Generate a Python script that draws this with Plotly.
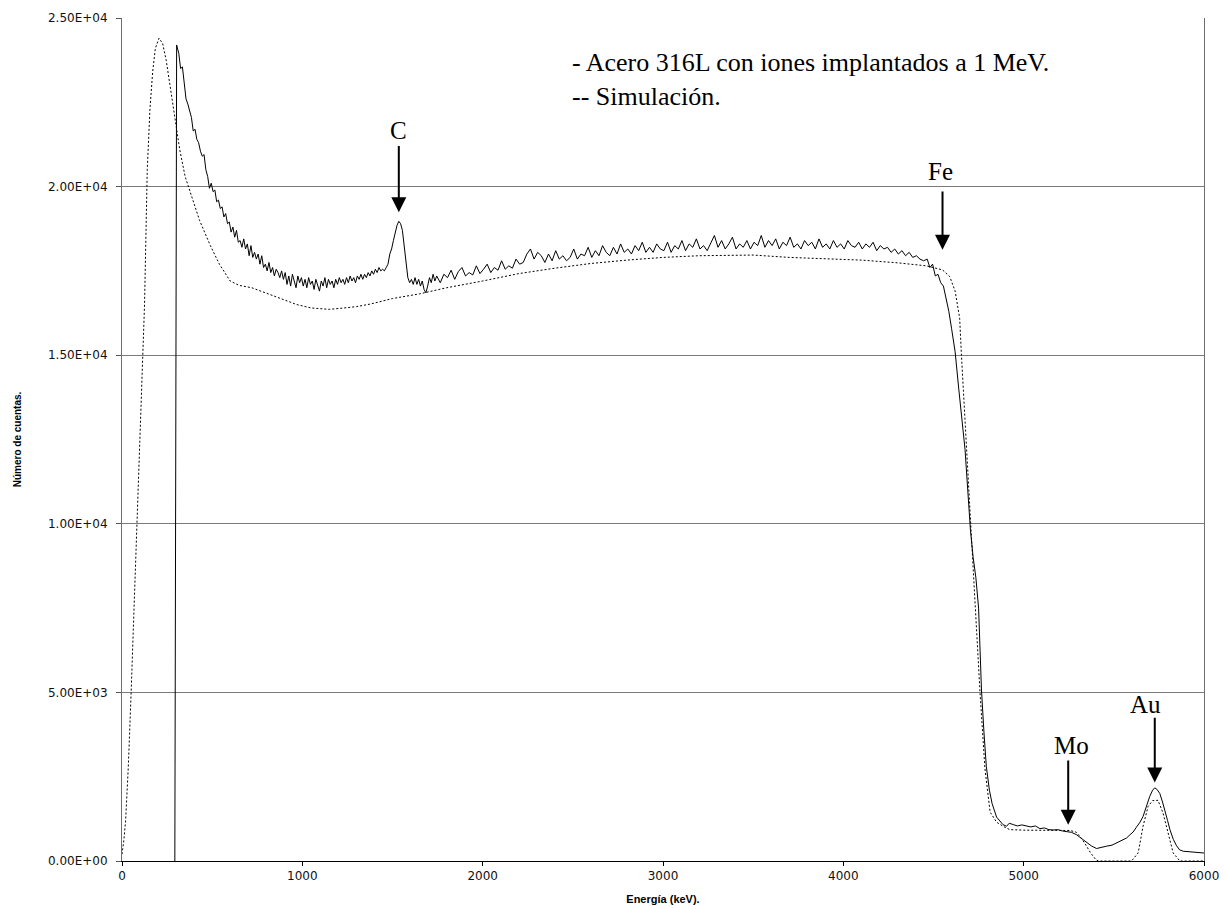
import plotly.graph_objects as go

# ---------------- data ----------------
# Experimental RBS spectrum (solid line): energy (keV), counts
exp_energy = [
    293, 303, 315, 325, 335, 345, 355, 365, 375, 385,
    395, 405, 415, 425, 435, 445, 455, 465, 475, 485,
    495, 505, 515, 525, 535, 545, 555, 565, 575, 585,
    595, 605, 615, 625, 635, 645, 655, 665, 675, 685,
    695, 705, 715, 725, 735, 745, 755, 765, 775, 785,
    795, 805, 815, 825, 835, 845, 855, 865, 875, 885,
    895, 905, 915, 925, 935, 945, 955, 965, 975, 985,
    995, 1005, 1015, 1025, 1035, 1045, 1055, 1065, 1075, 1085,
    1095, 1105, 1115, 1125, 1135, 1145, 1155, 1165, 1175, 1185,
    1195, 1205, 1215, 1225, 1235, 1245, 1255, 1265, 1275, 1285,
    1295, 1305, 1315, 1325, 1335, 1345, 1355, 1365, 1375, 1385,
    1395, 1405, 1415, 1425, 1435, 1445, 1455, 1465, 1475, 1485,
    1495, 1505, 1515, 1525, 1535, 1545, 1555, 1565, 1575, 1585,
    1595, 1605, 1615, 1625, 1635, 1645, 1655, 1665, 1675, 1685,
    1695, 1705, 1715, 1725, 1735, 1745, 1765, 1785, 1805, 1825,
    1845, 1865, 1885, 1905, 1925, 1945, 1965, 1985, 2005, 2025,
    2045, 2065, 2085, 2105, 2125, 2145, 2165, 2185, 2205, 2225,
    2245, 2265, 2285, 2305, 2325, 2345, 2365, 2385, 2405, 2425,
    2445, 2465, 2485, 2505, 2525, 2545, 2565, 2585, 2605, 2625,
    2645, 2665, 2685, 2705, 2725, 2745, 2765, 2785, 2805, 2825,
    2845, 2865, 2885, 2905, 2925, 2945, 2965, 2985, 3005, 3025,
    3045, 3065, 3085, 3105, 3125, 3145, 3165, 3185, 3205, 3225,
    3245, 3265, 3285, 3305, 3325, 3345, 3365, 3385, 3405, 3425,
    3445, 3465, 3485, 3505, 3525, 3545, 3565, 3585, 3605, 3625,
    3645, 3665, 3685, 3705, 3725, 3745, 3765, 3785, 3805, 3825,
    3845, 3865, 3885, 3905, 3925, 3945, 3965, 3985, 4005, 4025,
    4045, 4065, 4085, 4105, 4125, 4145, 4165, 4185, 4205, 4225,
    4245, 4265, 4285, 4305, 4325, 4345, 4365, 4385, 4405, 4425,
    4445, 4465, 4480, 4495, 4510, 4525, 4540, 4555, 4570, 4585,
    4600, 4620, 4640, 4660, 4675, 4690, 4705, 4720, 4735, 4750,
    4766, 4780, 4793, 4810, 4825, 4850, 4868, 4885, 4905, 4920,
    4942, 4965, 4990, 5016, 5040, 5065, 5090, 5115, 5140, 5163,
    5190, 5215, 5237, 5265, 5293, 5320, 5349, 5375, 5404, 5430,
    5460, 5490, 5515, 5540, 5570, 5590, 5607, 5625, 5645, 5662,
    5680, 5699, 5715, 5727, 5740, 5755, 5770, 5783, 5798, 5811,
    5830, 5848, 5865, 5885, 5905, 5925, 5950, 5977, 6000, 6014,
]
exp_counts = [
    0, 24200, 23950, 23500, 23550, 23150, 22600, 22450, 22200, 22050,
    21650, 21700, 21400, 21300, 21050, 20900, 20950, 20500, 20300, 19950,
    20100, 19850, 19900, 19550, 19600, 19350, 19400, 19100, 19200, 18900,
    18950, 18650, 18800, 18500, 18700, 18350, 18400, 18200, 18450, 18150,
    18300, 17950, 18250, 17900, 18050, 17850, 18000, 17700, 17950, 17600,
    17700, 17500, 17750, 17450, 17600, 17350, 17550, 17450, 17300, 17500,
    17250, 17450, 17100, 17350, 17050, 17400, 17200, 17000, 17350, 17150,
    17300, 17050, 17250, 17000, 17300, 17100, 17200, 16950, 17250, 17100,
    16900, 17200, 17050, 17300, 17000, 17250, 17100, 17200, 17000, 17250,
    17100, 17300, 17150, 17250, 17100, 17300, 17150, 17350, 17200, 17300,
    17150, 17350, 17250, 17400, 17250, 17400, 17300, 17450, 17350, 17500,
    17400, 17550, 17450, 17600, 17500, 17550, 17500, 17600, 17700, 18000,
    18150, 18400, 18650, 18850, 18970, 18900, 18700, 18250, 17700, 17300,
    17150, 17250, 17100, 17300, 17100, 17250, 17050, 17200, 16950, 16850,
    17050, 17300, 17150, 17400, 17200, 17350, 17150, 17400, 17300, 17520,
    17250, 17480, 17600, 17350, 17450, 17380, 17650, 17420, 17550, 17700,
    17450, 17600, 17520, 17800, 17550, 17650, 17580, 17850, 17700, 17750,
    18000, 18150, 17850, 18050, 17950, 17750, 18000, 17800, 18100, 17850,
    17950, 17800, 17900, 18150, 17850, 18000, 17950, 18200, 17900, 18100,
    17950, 18250, 18050, 17950, 18200, 18000, 18300, 18050, 18150, 18000,
    18250, 18100, 18350, 18050, 18200, 18050, 18300, 18150, 18100, 18350,
    18050, 18250, 18150, 18400, 18100, 18300, 18200, 18450, 18150, 18250,
    18100, 18350, 18550, 18200, 18400, 18150, 18300, 18500, 18150, 18300,
    18200, 18400, 18150, 18350, 18250, 18550, 18200, 18400, 18250, 18450,
    18150, 18350, 18250, 18500, 18200, 18300, 18150, 18400, 18250, 18350,
    18150, 18450, 18200, 18300, 18150, 18400, 18200, 18300, 18150, 18400,
    18250, 18200, 18350, 18150, 18300, 18200, 18350, 18100, 18250, 18150,
    18200, 18050, 18150, 18000, 18100, 17950, 18050, 17900, 17950, 17850,
    17800, 17850, 17600, 17700, 17350, 17400, 17150, 17050, 16700, 16300,
    15800, 15100, 14000, 12900, 12200, 11000, 9800, 9000, 8400, 7500,
    5070, 3800, 2800, 2100, 1700, 1300, 1175, 1080, 1030, 1120,
    1080, 1040, 1070, 1030, 1010, 1040, 960, 980, 930, 920,
    930, 890, 880, 850, 780, 680, 560, 450, 370, 410,
    440, 470, 530, 600, 680, 780, 860, 1000, 1150, 1320,
    1620, 1915, 2100, 2170, 2120, 2000, 1750, 1520, 1200, 930,
    640, 450, 330, 290, 280, 260, 250, 240, 235, 230,
]

# Simulation (dotted line): energy (keV), counts
sim_energy = [
    0, 10, 20, 35, 50, 65, 80, 95, 110, 125,
    140, 155, 170, 185, 205, 225, 245, 265, 290, 320,
    350, 380, 430, 490, 540, 600, 650, 720, 820, 900,
    970, 1050, 1150, 1230, 1300, 1380, 1500, 1650, 1800, 2000,
    2200, 2400, 2600, 2800, 3000, 3200, 3500, 3700, 3900, 4100,
    4300, 4460, 4550, 4590, 4620, 4645, 4655, 4670, 4685, 4700,
    4715, 4730, 4758, 4785, 4814, 4850, 4886, 4923, 5000, 5100,
    5256, 5290, 5312, 5340, 5370, 5400, 5415, 5500, 5598, 5635,
    5662, 5690, 5715, 5745, 5773, 5801, 5829, 5866, 6000,
]
sim_counts = [
    200, 600, 1200, 2800, 4900, 7200, 9600, 11800, 13800, 16500,
    20500, 22300, 23400, 24100, 24400, 24250, 23750, 23050, 22100, 21100,
    20300, 19800, 19000, 18250, 17700, 17200, 17070, 17000, 16800, 16620,
    16500, 16400, 16360, 16400, 16440, 16520, 16680, 16820, 17000, 17200,
    17420, 17580, 17720, 17820, 17900, 17950, 17970, 17900, 17870, 17820,
    17740, 17650, 17530, 17330, 16900, 16100, 15000, 13500, 12000, 10300,
    9000, 7700, 5000, 2750, 1450, 1150, 1030, 930, 915, 910,
    905, 860, 730, 520, 250, 40, 0, 0, 0, 240,
    1030, 1620, 1790, 1800, 1420, 830, 240, 0, 0,
]

# Axis ticks
x_tickvals = [0, 1000, 2000, 3000, 4000, 5000, 6000]
x_ticktext = ["0", "1000", "2000", "3000", "4000", "5000", "6000"]
y_tickvals = [0, 5000, 10000, 15000, 20000, 25000]
y_ticktext = ["0.00E+00", "5.00E+03", "1.00E+04", "1.50E+04", "2.00E+04", "2.50E+04"]

# Peak labels: text, text position, arrow x, arrow tail y, arrow tip y
peak_labels = ["C", "Fe", "Mo", "Au"]
peak_text_x = [1531, 4540, 5265, 5677]
peak_text_y = [21670, 20440, 3430, 4636]
peak_arrow_x = [1535, 4550, 5247, 5727]
peak_arrow_tail = [21245, 19900, 3025, 4290]
peak_arrow_tip = [19240, 18130, 1077, 2330]

legend_lines = ["- Acero 316L con iones implantados a 1 MeV.", "-- Simulación."]

# ---------------- figure ----------------
fig = go.Figure()
fig.add_trace(go.Scatter(
    x=sim_energy, y=sim_counts, mode="lines",
    line=dict(color="black", width=1, dash="2px,2px"),
    showlegend=False, name="Simulación",
))
fig.add_trace(go.Scatter(
    x=exp_energy, y=exp_counts, mode="lines",
    line=dict(color="black", width=1),
    showlegend=False, name="Acero 316L",
))

annotations = []
serif = dict(family="Liberation Serif, Times New Roman, serif", size=25, color="black")
for lab, tx, ty, axx, tail, tip in zip(peak_labels, peak_text_x, peak_text_y,
                                        peak_arrow_x, peak_arrow_tail, peak_arrow_tip):
    annotations.append(dict(x=tx, y=ty, xref="x", yref="y", text=lab,
                            showarrow=False, font=serif,
                            xanchor="center", yanchor="middle"))
    annotations.append(dict(x=axx, y=tip, ax=axx, ay=tail, xref="x", yref="y",
                            axref="x", ayref="y", text="", showarrow=True,
                            arrowhead=2, arrowsize=1.5, arrowwidth=2,
                            arrowcolor="black", standoff=0, startstandoff=0))

legend_y = [0.9478, 0.9063]
for txt, ly in zip(legend_lines, legend_y):
    annotations.append(dict(x=0.414, y=ly, xref="paper", yref="paper", text=txt,
                            showarrow=False, xanchor="left", yanchor="middle",
                            font=dict(family="Liberation Serif, Times New Roman, serif",
                                      size=26, color="black")))

tickfont = dict(family="DejaVu Sans, Arial, sans-serif", size=12, color="#111111")
fig.update_layout(
    width=1228, height=909,
    margin=dict(l=122, r=24, t=18, b=48),
    paper_bgcolor="white", plot_bgcolor="white",
    annotations=annotations,
    xaxis=dict(
        range=[0, 6000], tickmode="array", tickvals=x_tickvals, ticktext=x_ticktext,
        ticks="outside", ticklen=4, tickcolor="black", tickwidth=1,
        showline=True, linecolor="black", linewidth=1,
        showgrid=False, zeroline=False, tickfont=tickfont,
        title=dict(text="<b>Energía (keV).</b>",
                   font=dict(family="Liberation Sans, Arial, sans-serif", size=11, color="black"),
                   standoff=12),
        automargin=False,
    ),
    yaxis=dict(
        range=[0, 25000], tickmode="array", tickvals=y_tickvals, ticktext=y_ticktext,
        ticks="outside", ticklen=5, tickcolor="#555555", tickwidth=1,
        showline=True, linecolor="#6e6e6e", linewidth=1, mirror=True,
        showgrid=True, gridcolor="#7a7a7a", gridwidth=1,
        zeroline=False, tickfont=tickfont, ticklabelstandoff=6,
        title=dict(text="<b>Número de cuentas.</b>",
                   font=dict(family="Liberation Sans, Arial, sans-serif", size=10, color="black"),
                   standoff=24),
        automargin=False,
    ),
)

fig.write_html("out.html")
